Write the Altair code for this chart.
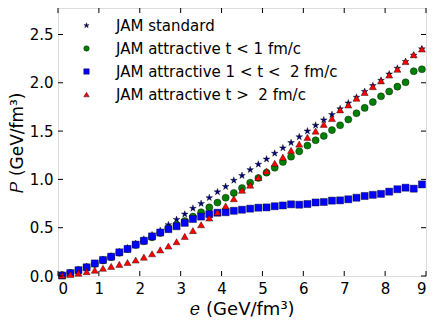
import altair as alt
import pandas as pd

e_vals = [0.1, 0.3, 0.5, 0.7, 0.9, 1.1, 1.3, 1.5, 1.7, 1.9, 2.1, 2.3, 2.5, 2.7, 2.9,
          3.1, 3.3, 3.5, 3.7, 3.9, 4.1, 4.3, 4.5, 4.7, 4.9, 5.1, 5.3, 5.5, 5.7, 5.9,
          6.1, 6.3, 6.5, 6.7, 6.9, 7.1, 7.3, 7.5, 7.7, 7.9, 8.1, 8.3, 8.5, 8.7, 8.9]

p_standard = [0.01, 0.035, 0.065, 0.095, 0.13, 0.17, 0.205, 0.25, 0.29, 0.335, 0.38, 0.425, 0.47, 0.53, 0.585,
              0.64, 0.70, 0.75, 0.81, 0.87, 0.925, 0.99, 1.04, 1.10, 1.156, 1.21, 1.27, 1.325, 1.38, 1.44,
              1.50, 1.56, 1.615, 1.67, 1.73, 1.79, 1.85, 1.91, 1.97, 2.025, 2.09, 2.15, 2.22, 2.285, 2.35]

p_t_lt1 = [0.01, 0.03, 0.06, 0.09, 0.125, 0.16, 0.195, 0.24, 0.28, 0.32, 0.36, 0.40, 0.445, 0.49, 0.53,
           0.57, 0.615, 0.66, 0.71, 0.76, 0.81, 0.86, 0.91, 0.966, 1.015, 1.07, 1.12, 1.18, 1.235, 1.29,
           1.35, 1.405, 1.45, 1.51, 1.56, 1.62, 1.685, 1.74, 1.80, 1.86, 1.91, 1.96, 2.005, 2.12, 2.14]

p_t_1to2 = [0.005, 0.03, 0.06, 0.09, 0.13, 0.166, 0.20, 0.245, 0.28, 0.325, 0.365, 0.41, 0.45, 0.485, 0.515,
            0.55, 0.59, 0.615, 0.64, 0.655, 0.66, 0.675, 0.686, 0.697, 0.707, 0.71, 0.722, 0.73, 0.742, 0.738,
            0.745, 0.761, 0.766, 0.78, 0.783, 0.794, 0.81, 0.828, 0.84, 0.85, 0.873, 0.898, 0.914, 0.904, 0.948]

p_t_gt2 = [0.005, 0.015, 0.03, 0.045, 0.06, 0.08, 0.10, 0.12, 0.14, 0.165, 0.195, 0.23, 0.27, 0.31, 0.355,
           0.41, 0.47, 0.53, 0.60, 0.66, 0.725, 0.80, 0.887, 0.94, 1.02, 1.087, 1.167, 1.23, 1.30, 1.365,
           1.435, 1.50, 1.57, 1.63, 1.72, 1.77, 1.84, 1.90, 1.96, 2.02, 2.08, 2.14, 2.22, 2.29, 2.35]

series_names = ["JAM standard",
                "JAM attractive t < 1 fm/c",
                "JAM attractive 1 < t <\u00a0 2 fm/c",
                "JAM attractive t >\u00a0 2 fm/c"]
series_colors = ["#000080", "#008000", "#0000ff", "#ff0000"]
series_shapes = ["M0,-1L0.2245,-0.309L0.951,-0.309L0.3633,0.118L0.5878,0.809L0,0.382L-0.5878,0.809L-0.3633,0.118L-0.951,-0.309L-0.2245,-0.309Z",
                 "circle", "square", "triangle-up"]

x_ticks = [0, 1, 2, 3, 4, 5, 6, 7, 8, 9]
y_ticks = [0.0, 0.5, 1.0, 1.5, 2.0, 2.5]

rows = []
for name, vals in zip(series_names, [p_standard, p_t_lt1, p_t_1to2, p_t_gt2]):
    for e, p in zip(e_vals, vals):
        rows.append({"e": e, "P": p, "series": name})
df = pd.DataFrame(rows)
df["order"] = range(len(df))

W, H = 368, 268
FONT = "DejaVu Sans"
xscale = alt.Scale(domain=[0, 9], nice=False, zero=False)
yscale = alt.Scale(domain=[0, 2.774], nice=False, zero=False)

points = alt.Chart(df).mark_point(filled=True, opacity=1, stroke="black", strokeWidth=0.4, size=50).encode(
    x=alt.X("e:Q", scale=xscale,
            axis=alt.Axis(values=x_ticks, format="d", title="𝑒 (GeV/fm³)", ticks=False, tickSize=0,
                          domain=False, grid=False, labelFontSize=15, labelPadding=5,
                          titleFontSize=18, titleFontWeight="normal", titlePadding=4,
                          labelFont=FONT, titleFont=FONT, labelColor="black", titleColor="black")),
    y=alt.Y("P:Q", scale=yscale,
            axis=alt.Axis(values=y_ticks, format=".1f", title="𝑃 (GeV/fm³)", ticks=False, tickSize=0,
                          domain=False, grid=False, labelFontSize=15, labelPadding=5,
                          titleFontSize=17, titleFontWeight="normal", titlePadding=3,
                          labelFont=FONT, titleFont=FONT, labelColor="black", titleColor="black")),
    color=alt.Color("series:N", scale=alt.Scale(domain=series_names, range=series_colors),
                    legend=alt.Legend(title=None, orient="none", legendX=21, legendY=10,
                                      labelFontSize=15, labelFont=FONT, labelColor="black",
                                      symbolSize=30, symbolStrokeColor="black", symbolStrokeWidth=0.4,
                                      rowPadding=7, labelOffset=22, padding=0, labelLimit=400)),
    shape=alt.Shape("series:N", scale=alt.Scale(domain=series_names, range=series_shapes), legend=None),
    order=alt.Order("order:Q"),
)

xt = pd.DataFrame({"v": x_ticks})
yt = pd.DataFrame({"v": y_ticks})
tick_style = dict(color="black", strokeWidth=1)
bottom_ticks = alt.Chart(xt).mark_rule(**tick_style).encode(x=alt.X("v:Q", scale=xscale), y=alt.value(H), y2=alt.value(H - 5))
top_ticks = alt.Chart(xt).mark_rule(**tick_style).encode(x=alt.X("v:Q", scale=xscale), y=alt.value(0), y2=alt.value(5))
left_ticks = alt.Chart(yt).mark_rule(**tick_style).encode(y=alt.Y("v:Q", scale=yscale), x=alt.value(0), x2=alt.value(5))
right_ticks = alt.Chart(yt).mark_rule(**tick_style).encode(y=alt.Y("v:Q", scale=yscale), x=alt.value(W), x2=alt.value(W - 5))

chart = alt.layer(points, bottom_ticks, top_ticks, left_ticks, right_ticks).properties(
    width=W, height=H,
    autosize=alt.AutoSizeParams(type="none"),
    padding={"left": 50, "top": 0, "right": 2, "bottom": 42},
).configure_view(stroke="black", strokeWidth=1).configure(background="white")

chart.save("out.html", embed_options={"renderer": "svg", "actions": False})
